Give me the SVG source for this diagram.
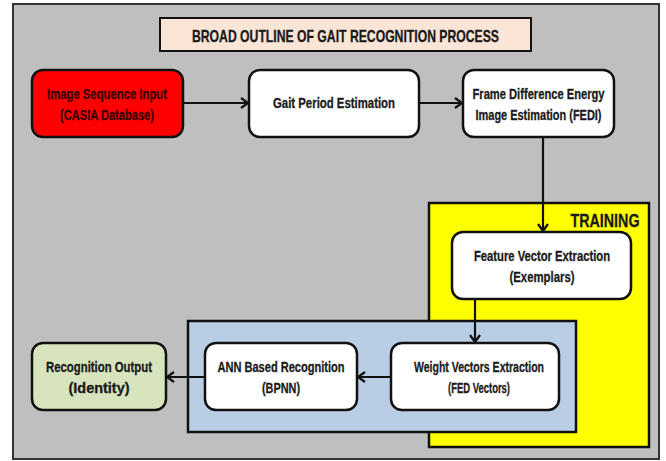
<svg xmlns="http://www.w3.org/2000/svg" width="666" height="461" viewBox="0 0 666 461">
  <style>
    .box { stroke: #111; stroke-width: 2.5; }
    .lbl { font-family: "Liberation Sans", Arial, sans-serif; font-weight: bold; font-size: 14.5px; fill: #1a1a1a; stroke: #1a1a1a; stroke-width: 0.3; text-anchor: middle; }
    .dark { fill: #3a0000; stroke: #3a0000; }
    .conn { stroke: #111; stroke-width: 2.2; fill: none; }
  </style>
  <defs>
    <marker id="arrow" markerUnits="userSpaceOnUse" markerWidth="14" markerHeight="14" refX="9" refY="6" orient="auto">
      <path d="M2,1 L9,6 L2,11" fill="none" stroke="#111" stroke-width="2.2"/>
    </marker>
  </defs>

  <!-- background panel -->
  <rect x="13" y="4" width="646" height="455" fill="#BFBFBF" stroke="#333" stroke-width="2"/>

  <!-- title banner -->
  <g id="title">
    <rect x="160" y="18" width="371" height="33" fill="#FBE5D6" stroke="#111" stroke-width="2"/>
    <text class="lbl" x="345.5" y="42" style="font-size:17px" textLength="307" lengthAdjust="spacingAndGlyphs">BROAD OUTLINE OF GAIT RECOGNITION PROCESS</text>
  </g>

  <!-- training region -->
  <g id="training">
    <rect x="429" y="203" width="220" height="244" fill="#FFFF00" stroke="#111" stroke-width="2.5"/>
    <text class="lbl" x="605" y="227" style="font-size:18px" textLength="69" lengthAdjust="spacingAndGlyphs">TRAINING</text>
  </g>

  <!-- classification region -->
  <g id="classification">
    <rect x="188" y="321" width="388" height="111" fill="#B9CDE5" stroke="#111" stroke-width="2.5"/>
  </g>

  <!-- connectors -->
  <g id="connectors">
    <line class="conn" x1="183" y1="103" x2="248" y2="103" marker-end="url(#arrow)"/>
    <line class="conn" x1="419" y1="103" x2="462" y2="103" marker-end="url(#arrow)"/>
    <line class="conn" x1="543" y1="137" x2="543" y2="231" marker-end="url(#arrow)"/>
    <line class="conn" x1="475" y1="299" x2="475" y2="342" marker-end="url(#arrow)"/>
    <line class="conn" x1="391" y1="377" x2="358" y2="377" marker-end="url(#arrow)"/>
    <line class="conn" x1="205" y1="377" x2="167" y2="377" marker-end="url(#arrow)"/>
  </g>

  <g id="input">
    <rect class="box" x="32" y="70" width="151" height="67" rx="11" fill="#FF0000"/>
    <text class="lbl dark" x="107" y="99" textLength="120" lengthAdjust="spacingAndGlyphs">Image Sequence Input</text>
    <text class="lbl dark" x="107" y="120" textLength="94" lengthAdjust="spacingAndGlyphs">(CASIA Database)</text>
  </g>

  <g id="gait-period">
    <rect class="box" x="249" y="70" width="170" height="67" rx="11" fill="#FFFFFF"/>
    <text class="lbl" x="334" y="108" textLength="122" lengthAdjust="spacingAndGlyphs">Gait Period Estimation</text>
  </g>

  <g id="fedi">
    <rect class="box" x="463" y="70" width="151" height="67" rx="11" fill="#FFFFFF"/>
    <text class="lbl" x="538.5" y="99" textLength="132" lengthAdjust="spacingAndGlyphs">Frame Difference Energy</text>
    <text class="lbl" x="538.5" y="120" textLength="126" lengthAdjust="spacingAndGlyphs">Image Estimation (FEDI)</text>
  </g>

  <g id="feature-vector">
    <rect class="box" x="452" y="232" width="179" height="67" rx="11" fill="#FFFFFF"/>
    <text class="lbl" x="542" y="261" textLength="136" lengthAdjust="spacingAndGlyphs">Feature Vector Extraction</text>
    <text class="lbl" x="542" y="282" textLength="65" lengthAdjust="spacingAndGlyphs">(Exemplars)</text>
  </g>

  <g id="weight-vectors">
    <rect class="box" x="391" y="343" width="168" height="67" rx="11" fill="#FFFFFF"/>
    <text class="lbl" x="479" y="372" textLength="130" lengthAdjust="spacingAndGlyphs">Weight Vectors Extraction</text>
    <text class="lbl" x="479" y="393" textLength="62" lengthAdjust="spacingAndGlyphs">(FED Vectors)</text>
  </g>

  <g id="ann">
    <rect class="box" x="205" y="343" width="152" height="67" rx="11" fill="#FFFFFF"/>
    <text class="lbl" x="281" y="372" textLength="127" lengthAdjust="spacingAndGlyphs">ANN Based Recognition</text>
    <text class="lbl" x="281" y="393" textLength="38" lengthAdjust="spacingAndGlyphs">(BPNN)</text>
  </g>

  <g id="output">
    <rect class="box" x="32" y="343" width="134" height="67" rx="11" fill="#D7E4BD"/>
    <text class="lbl" x="99" y="372" textLength="106" lengthAdjust="spacingAndGlyphs">Recognition Output</text>
    <text class="lbl" x="99" y="393" textLength="61" lengthAdjust="spacingAndGlyphs">(Identity)</text>
  </g>
</svg>
